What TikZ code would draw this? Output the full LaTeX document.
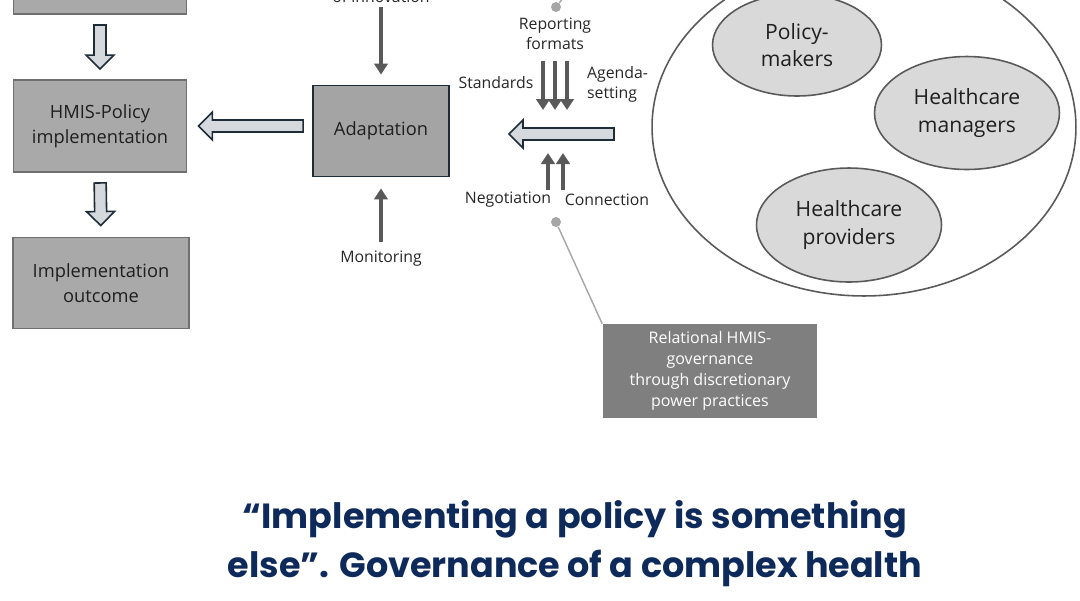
\documentclass[tikz,border=0pt]{standalone}
\usepackage{fontspec}
\setmainfont{Open Sans}
\newfontfamily\titlefont{Poppins}
\usetikzlibrary{positioning, calc, shapes.geometric, arrows.meta}

\definecolor{boxgrey}{HTML}{A9A9A9}
\definecolor{boxline}{HTML}{6F6F6F}
\definecolor{navyline}{HTML}{1E2C38}
\definecolor{fatfill}{HTML}{D5D9DD}
\definecolor{arrgrey}{HTML}{595959}
\definecolor{actorfill}{HTML}{D9D9D9}
\definecolor{govfill}{HTML}{7F7F7F}
\definecolor{dotgrey}{HTML}{A6A6A6}
\definecolor{titleblue}{HTML}{0E2A5A}

\tikzset{stage/.style={draw=boxline, line width=1.1pt, fill=boxgrey, align=center, text=black!88, font=\fontsize{10.4}{14.2}\selectfont, minimum width=3.46cm, minimum height=1.84cm, inner sep=0pt}}
\tikzset{actor/.style={ellipse, draw=arrgrey, line width=0.9pt, fill=actorfill, align=center, text=black!88, font=\fontsize{12}{15.4}\selectfont, inner sep=0pt}}
\tikzset{lbl/.style={align=center, text=black!85, font=\fontsize{9}{11.4}\selectfont, inner sep=1pt}}
\tikzset{fat/.style={draw=navyline, line width=0.9pt, fill=fatfill, line join=miter}}
\tikzset{thin/.style={draw=arrgrey, line width=2.1pt, -{Triangle[width=0.27cm,length=0.22cm]}}}
\tikzset{pindot/.style={circle, fill=dotgrey, inner sep=0pt, minimum size=0.2cm}}
\tikzset{pinline/.style={draw=dotgrey, line width=0.8pt}}
\tikzset{titleline/.style={anchor=base, text=titleblue, font=\titlefont\bfseries\fontsize{19.9}{27.9}\selectfont}}

% block arrow: from, to, gap at from, gap at to
\newcommand\fatarr[4]{
		\coordinate (fa-s) at ($(#1)!#3!(#2)$);
		\coordinate (fa-e) at ($(#2)!#4!(#1)$);
		\coordinate (fa-h) at ($(fa-e)!0.28cm!(fa-s)$);
		\draw[fat] ($(fa-s)!0.12cm!90:(fa-e)$) -- ($(fa-h)!0.12cm!90:(fa-e)$) -- ($(fa-h)!0.28cm!90:(fa-e)$) -- (fa-e)
			-- ($(fa-h)!0.28cm!-90:(fa-e)$) -- ($(fa-h)!0.12cm!-90:(fa-e)$) -- ($(fa-s)!0.12cm!-90:(fa-e)$) -- cycle;
	}

\begin{document}
\begin{tikzpicture}[x=0.02cm, y=-0.02cm]
			\useasboundingbox (0,0) rectangle (1080,600);
			\clip (0,0) rectangle (1080,600);

			% left column
			\node[stage] (topbox) at (100,-32) {};
			\node[stage] (hmis) at (100,126) {HMIS-Policy\\implementation};
			\node[stage, minimum width=3.52cm, minimum height=1.82cm] (outcome) at (101,283) {Implementation\\outcome};

			\fatarr{topbox.south}{hmis.north}{0.2cm}{0.2cm}
			\fatarr{hmis.south}{outcome.north}{0.2cm}{0.22cm}

			% adaptation
			\node[stage, draw=navyline, fill=boxgrey!97!black, minimum width=2.72cm, minimum height=1.82cm] (adapt) at (381,131) {Adaptation};
			\node[lbl, anchor=base] (innov) at (381,2) {of innovation};
			\node[lbl] (monitor) at (381,259) {Monitoring};
			\draw[thin, shorten <=0.06cm, shorten >=0.2cm] (innov.south) -- (adapt.north);
			\draw[thin, shorten <=0.14cm, shorten >=0.22cm] (monitor.north) -- (adapt.south);
			\fatarr{adapt.west |- hmis.east}{hmis.east}{0.18cm}{0.22cm}

			% relational flow
			\coordinate (flow-s) at (614,134);
			\coordinate (flow-e) at (509,134);
			\coordinate (flowtop) at (555,110);
			\coordinate (flowbot) at (555,153);
			\fatarr{flow-s}{flow-e}{0cm}{0cm}

			\node[lbl] (rep) at (555,34) {Reporting\\formats};
			\node[lbl] (std) at (496,83) {Standards};
			\node[lbl, anchor=west, align=left] (agenda) at (585,84) {Agenda-\\setting};
			\foreach \dx in {-12,0,12}
				\draw[thin] ($(rep.south)+(\dx,9)$) -- ($(flowtop)+(\dx,0)$);

			\node[lbl] (nego) at (508,200) {Negotiation};
			\node[lbl] (conn) at (607,200) {Connection};
			\foreach \dx in {-7,8}
				\draw[thin] ($(flowbot)+(\dx,37)$) -- ($(flowbot)+(\dx,0)$);

			% governance note
			\node[pindot] (dottop) at (556,7) {};
			\node[pindot] (dotbot) at (556,222) {};
			\node[fill=govfill, text=white, align=center, font=\fontsize{9.1}{12}\selectfont, minimum width=4.3cm, minimum height=1.88cm, inner sep=0pt] (gov) at (710,371)
				{Relational HMIS-\\governance\\through discretionary\\power practices};
			\draw[pinline] (dottop) -- ($(dottop)+(20,-25)$);
			\draw[pinline] (dotbot) -- (gov.north west);

			% actors
			\node[ellipse, draw=arrgrey, line width=0.9pt, minimum width=8.48cm, minimum height=6.76cm] (arena) at (864,127) {};
			\node[actor, minimum width=3.38cm, minimum height=2.04cm] (makers) at (797,45) {Policy-\\makers};
			\node[actor, minimum width=3.7cm, minimum height=2.26cm] (managers) at (967,113) {Healthcare\\managers};
			\node[actor, minimum width=3.7cm, minimum height=2.28cm] (providers) at (849,225) {Healthcare\\providers};

			% title
			\node[titleline] (title1) at (575,528) {“Implementing a policy is something};
			\node[titleline] (title2) at (575,577) {else”. Governance of a complex health};
		\end{tikzpicture}
\end{document}
